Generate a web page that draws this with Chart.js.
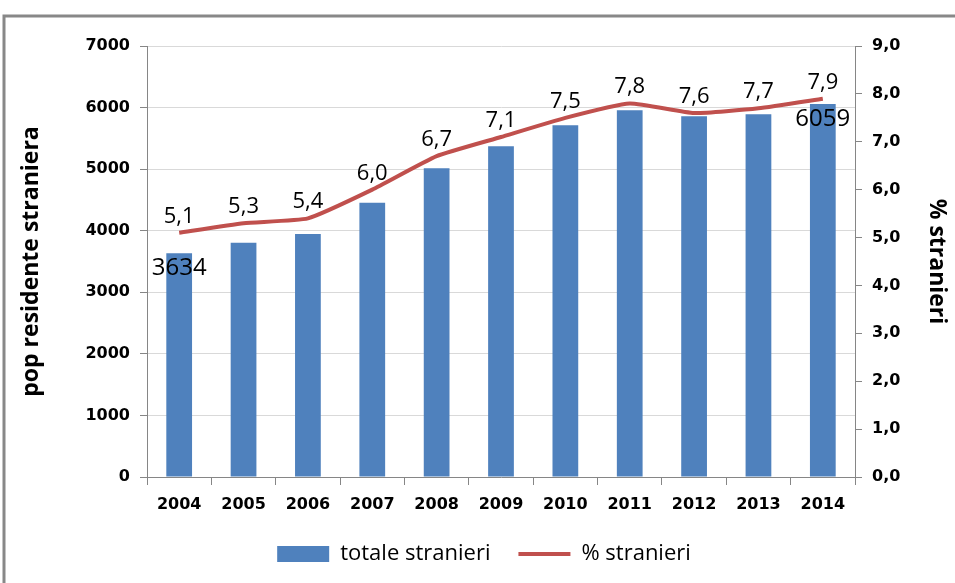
<!DOCTYPE html>
<html>
<head>
<meta charset="utf-8">
<script src="https://cdn.jsdelivr.net/npm/chart.js@4/dist/chart.umd.min.js"></script>
<style>
  html, body { margin: 0; padding: 0; background: #fff; }
  #wrap { width: 955px; height: 583px; }
</style>
</head>
<body>
<div id="wrap"><canvas id="chart" width="955" height="583"></canvas></div>
<script>
const anni = ["2004", "2005", "2006", "2007", "2008", "2009", "2010", "2011", "2012", "2013", "2014"];
const totaleStranieri = [3634, 3803, 3945, 4453, 5016, 5373, 5714, 5958, 5860, 5893, 6059];
const pctStranieri = [5.1, 5.3, 5.4, 6.0, 6.7, 7.1, 7.5, 7.8, 7.6, 7.7, 7.9];
const barLabelIndex = [0, 10];

const tickFont = { family: "DejaVu Sans", size: 16, weight: "bold" };
const fmt1 = v => v.toFixed(1).replace(".", ",");

// frame around the chart
const framePlugin = {
  id: "frame",
  beforeDraw(chart) {
    const ctx = chart.ctx;
    ctx.save();
    ctx.fillStyle = "#fff";
    ctx.fillRect(0, 0, chart.width, chart.height);
    ctx.strokeStyle = "#888";
    ctx.lineWidth = 3;
    ctx.beginPath();
    ctx.moveTo(4, chart.height);
    ctx.lineTo(4, 16);
    ctx.lineTo(chart.width + 5, 16);
    ctx.stroke();
    ctx.restore();
  }
};

// value labels: all percentages, first and last total
const labelPlugin = {
  id: "valueLabels",
  afterDatasetsDraw(chart) {
    const ctx = chart.ctx;
    ctx.save();
    ctx.fillStyle = "#000";
    ctx.textAlign = "center";
    ctx.textBaseline = "alphabetic";
    ctx.font = '22px "Open Sans"';
    chart.getDatasetMeta(1).data.forEach((pt, i) => {
      ctx.fillText(fmt1(pctStranieri[i]), pt.x, pt.y - 10);
    });
    ctx.font = '24px "Open Sans"';
    const bars = chart.getDatasetMeta(0).data;
    barLabelIndex.forEach(i => {
      ctx.fillText(String(totaleStranieri[i]), bars[i].x, bars[i].y + 22);
    });
    ctx.restore();
  }
};

new Chart(document.getElementById("chart"), {
  data: {
    labels: anni,
    datasets: [
      {
        type: "bar",
        label: "totale stranieri",
        data: totaleStranieri,
        backgroundColor: "#4F81BD",
        yAxisID: "y",
        barPercentage: 0.4,
        categoryPercentage: 1,
        pointStyle: "rect",
        order: 1
      },
      {
        type: "line",
        label: "% stranieri",
        data: pctStranieri,
        borderColor: "#C0504D",
        backgroundColor: "#C0504D",
        borderWidth: 4,
        pointRadius: 0,
        tension: 0.15,
        yAxisID: "y1",
        pointStyle: "line",
        order: 0
      }
    ]
  },
  options: {
    responsive: false,
    animation: false,
    layout: { padding: { left: 18, right: 5, top: 46, bottom: 8 } },
    plugins: {
      tooltip: { enabled: false },
      legend: {
        position: "bottom",
        labels: {
          usePointStyle: true,
          pointStyleWidth: 52,
          boxHeight: 16,
          padding: 28,
          color: "#000",
          font: { family: "Open Sans", size: 22 },
          sort: (a, b) => a.datasetIndex - b.datasetIndex
        }
      }
    },
    scales: {
      x: {
        grid: { drawOnChartArea: false, tickLength: 8, tickColor: "#868686", offset: true },
        border: { color: "#868686" },
        ticks: { color: "#000", font: tickFont, padding: 10, maxRotation: 0 },
        afterFit(s) { s.height = 38; }
      },
      y: {
        position: "left",
        min: 0,
        max: 7000,
        ticks: { stepSize: 1000, color: "#000", font: tickFont, padding: 10, callback: v => String(v) },
        grid: { color: "#D9D9D9", tickLength: 7, tickColor: "#868686" },
        border: { color: "#868686" },
        title: {
          display: true,
          text: "pop residente straniera",
          color: "#000",
          font: { family: "Open Sans", size: 23, weight: "bold" },
          padding: { top: 0, bottom: 0 }
        },
        afterFit(s) { s.width = 129; }
      },
      y1: {
        position: "right",
        min: 0,
        max: 9,
        ticks: { stepSize: 1, color: "#000", font: tickFont, padding: 10, callback: v => fmt1(v) },
        grid: { drawOnChartArea: false, tickLength: 7, tickColor: "#868686" },
        border: { color: "#868686" },
        title: {
          display: true,
          text: "% stranieri",
          color: "#000",
          font: { family: "Open Sans", size: 23, weight: "bold" },
          padding: { top: 0, bottom: 0 }
        },
        afterFit(s) { s.width = 95; }
      }
    }
  },
  plugins: [framePlugin, labelPlugin]
});
</script>
</body>
</html>
